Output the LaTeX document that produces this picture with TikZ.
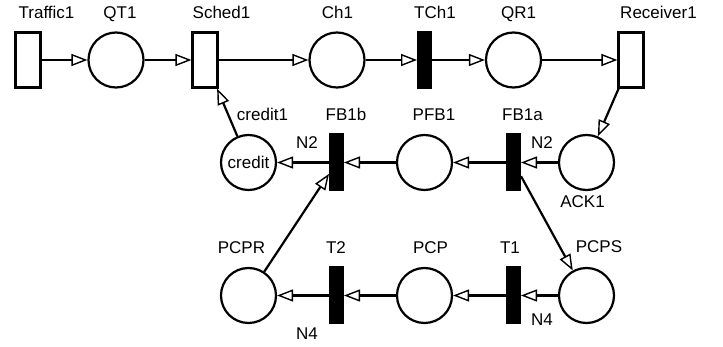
\documentclass[tikz,border=0pt]{standalone}
\usepackage{fontspec}
\setmainfont{Liberation Sans}
\usetikzlibrary{arrows.meta}
\begin{document}
\begin{tikzpicture}[x=1pt,y=-1pt,
  font=\fontsize{17}{20}\selectfont,
  place/.style={circle,draw,line width=2.2pt,minimum size=55pt,inner sep=0pt},
  bar/.style={rectangle,draw,fill=black,line width=1pt,minimum width=14pt,minimum height=57pt,inner sep=0pt},
  box/.style={rectangle,draw,fill=white,line width=2.2pt,minimum width=25pt,minimum height=55pt,inner sep=0pt},
  lbl/.style={anchor=base,inner sep=0pt},
  arc/.style={line width=2.2pt,-{Triangle[open,length=16pt,width=12pt,line width=1.4pt]}}]
\useasboundingbox (0,0) rectangle (723,347);

% top row
\node[box]   (traffic) at (28,60) {};
\node[place] (qt)      at (116,60) {};
\node[box]   (sched)   at (205,60) {};
\node[place] (ch)      at (337,60) {};
\node[bar]   (tch)     at (424.5,60) {};
\node[place] (qr)      at (513.5,60) {};
\node[box]   (recv)    at (631,60) {};

% feedback row
\node[place] (credit) at (248.5,162.5) {credit};
\node[bar]   (fbb)    at (336.5,162.5) {};
\node[place] (pfb)    at (424.5,162.5) {};
\node[bar]   (fba)    at (513.5,162.5) {};
\node[place] (ack)    at (586.5,162.5) {};

% bottom row
\node[place] (pcpr) at (248.5,295.5) {};
\node[bar]   (t2)   at (336.5,295.5) {};
\node[place] (pcp)  at (424.5,295.5) {};
\node[bar]   (t1)   at (513.5,295.5) {};
\node[place] (pcps) at (586.5,295.5) {};

% labels
\node[lbl] (lTraffic) at (46.5,19) {Traffic1};
\node[lbl] (lQT)      at (120,19) {QT1};
\node[lbl] (lSched)   at (221.5,19) {Sched1};
\node[lbl] (lCh)      at (337.5,19) {Ch1};
\node[lbl] (lTCh)     at (435,19) {TCh1};
\node[lbl] (lQR)      at (518.5,19) {QR1};
\node[lbl] (lRecv)    at (658.5,19) {Receiver1};
\node[lbl] (lCredit1) at (262.5,121) {credit1};
\node[lbl] (lFBb)     at (346,121) {FB1b};
\node[lbl] (lPFB)     at (434,121) {PFB1};
\node[lbl] (lFBa)     at (522.5,121) {FB1a};
\node[lbl] (lN2a)     at (307,149) {N2};
\node[lbl] (lN2b)     at (542,149) {N2};
\node[lbl] (lAck)     at (582.5,208) {ACK1};
\node[lbl] (lPCPR)    at (241.5,254) {PCPR};
\node[lbl] (lT2)      at (336,254) {T2};
\node[lbl] (lPCP)     at (430.5,254) {PCP};
\node[lbl] (lT1)      at (510,254) {T1};
\node[lbl] (lPCPS)    at (599,253) {PCPS};
\node[lbl] (lN4a)     at (542,326) {N4};
\node[lbl] (lN4b)     at (307,340) {N4};

% arcs
\draw[arc] (traffic) -- (qt);
\draw[arc] (qt) -- (sched);
\draw[arc] (sched) -- (ch);
\draw[arc] (ch) -- (tch);
\draw[arc] (tch) -- (qr);
\draw[arc] (qr) -- (recv);
\draw[arc] (recv) -- (ack);
\draw[arc] (ack) -- (fba);
\draw[arc] (fba) -- (pfb);
\draw[arc] (pfb) -- (fbb);
\draw[arc] (fbb) -- (credit);
\draw[arc] (credit) -- (sched);
\draw[arc] (fba) -- (pcps);
\draw[arc] (pcps) -- (t1);
\draw[arc] (t1) -- (pcp);
\draw[arc] (pcp) -- (t2);
\draw[arc] (t2) -- (pcpr);
\draw[arc] (pcpr) -- (fbb);
\end{tikzpicture}
\end{document}
